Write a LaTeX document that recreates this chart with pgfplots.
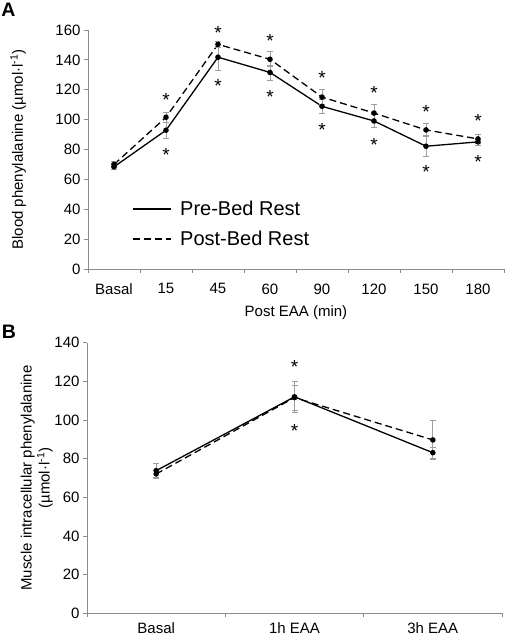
\documentclass[border=0pt]{standalone}
\usepackage{fontspec}
\setmainfont{Liberation Sans}
\usepackage{pgfplots}
\pgfplotsset{compat=1.18}
\definecolor{axisgray}{gray}{0.55}
\definecolor{errgray}{gray}{0.62}
\pgfplotstableread{
x y e
0 68.4 2
1 92.9 5.5
2 141.8 8.5
3 131.6 5
4 108.9 5
5 99.1 4.2
6 82.2 7
7 85.1 2
}\preA
\pgfplotstableread{
x y e
0 70 2
1 101.6 3.5
2 150.4 2
3 140.4 5
4 115.1 5
5 104.4 5.5
6 93.1 4.2
7 87.1 3
}\postA
\pgfplotstableread{
x y
1 115.6
2 161
3 155.6
4 130.7
5 120.4
6 107.8
7 101.8
1 78.9
2 124.9
3 117.8
4 96
5 85.6
6 67.8
7 74.4
}\starsA
\pgfplotstableread{
x y e
0 73.8 4
1 112 8
2 83.1 3
}\preB
\pgfplotstableread{
x y e
0 72.1 2
1 111.6 6.5
2 89.7 10
}\postB
\pgfplotstableread{
x y
1 129.3
1 96.6
}\starsB
\begin{document}
\begin{tikzpicture}
\useasboundingbox (0,0) rectangle (504pt,-638pt);
\pgfplotsset{
  common/.style={
    scale only axis,
    anchor=south west,
    axis x line*=bottom, axis y line*=left,
    axis line style={axisgray, line width=0.8pt},
    tick align=outside,
    major tick length=4pt, minor tick length=4pt,
    major x tick style={draw=none},
    minor x tick style={axisgray, line width=0.8pt},
    ytick style={axisgray, line width=0.8pt},
    /pgf/number format/assume math mode=true,
    tick label style={font=\fontsize{15}{18}\selectfont},
    label style={font=\fontsize{15}{18}\selectfont},
    clip=false,
    ymin=0,
  },
  preline/.style={black, line width=1.3pt, mark=*, mark size=2.1pt,
    error bars/.cd, y dir=both, y explicit,
    error bar style={errgray, line width=0.7pt, solid},
    error mark options={rotate=90, errgray, mark size=3pt, line width=0.7pt, solid}},
  postline/.style={black, line width=1.3pt, dash pattern=on 7pt off 4pt, mark=*, mark size=2.1pt, mark options={solid},
    error bars/.cd, y dir=both, y explicit,
    error bar style={errgray, line width=0.7pt, solid},
    error mark options={rotate=90, errgray, mark size=3pt, line width=0.7pt, solid}},
  stars/.style={draw=none, mark=none, forget plot,
    nodes near coords={*}, nodes near coords align=center,
    every node near coord/.append style={font=\fontsize{19}{20}\selectfont, yshift=-4pt, inner sep=0pt}},
}
\node[font=\bfseries\fontsize{19.5}{20}\selectfont] at (8.5pt,-10pt) {A};
\node[font=\bfseries\fontsize{19.5}{20}\selectfont] at (9pt,-331.5pt) {B};
\begin{axis}[common, at={(88pt,-269pt)}, width=416pt, height=239pt,
  xmin=-0.5, xmax=7.5, ymax=160, ytick={0,20,...,160},
  xtick={0,...,7}, xticklabels={Basal,15,45,60,90,120,150,180},
  xticklabel style={yshift=-7pt},
  minor xtick={-0.5,0.5,...,7.5},
  xlabel={Post EAA (min)},
  ylabel={Blood phenylalanine (µmol·l\textsuperscript{-1})},
  xlabel style={at={(axis description cs:0.5,-0.182)}, anchor=center},
  ylabel style={at={(axis description cs:-0.168,0.5)}, anchor=center},
  legend style={draw=none, fill=none, inner sep=0pt, at={(axis cs:0.34,30.1)}, anchor=west,
    font=\fontsize{20}{24}\selectfont, row sep=14pt, column sep=9pt, nodes={inner sep=0pt}},
  legend cell align=left,
  legend image code/.code={\draw[#1, mark=none] (0pt,0pt) -- (38pt,0pt);},
]
\addplot[preline] table[x=x, y=y, y error=e] {\preA};
\addlegendentry{Pre-Bed Rest}
\addplot[postline] table[x=x, y=y, y error=e] {\postA};
\addlegendentry{Post-Bed Rest}
\addplot[stars] table[x=x, y=y] {\starsA};
\end{axis}
\begin{axis}[common, at={(87pt,-613.3pt)}, width=415pt, height=270.6pt,
  xmin=-0.5, xmax=2.5, ymax=140, ytick={0,20,...,140},
  xtick={0,1,2}, xticklabels={Basal,1h EAA,3h EAA},
  xticklabel style={yshift=-1.5pt},
  minor xtick={-0.5,0.5,1.5,2.5},
  ylabel={Muscle intracellular phenylalanine\\(µmol·l\textsuperscript{-1})},
  ylabel style={at={(axis description cs:-0.121,0.5)}, anchor=center, align=center},
]
\addplot[preline] table[x=x, y=y, y error=e] {\preB};
\addplot[postline] table[x=x, y=y, y error=e] {\postB};
\addplot[stars] table[x=x, y=y] {\starsB};
\end{axis}
\end{tikzpicture}
\end{document}
